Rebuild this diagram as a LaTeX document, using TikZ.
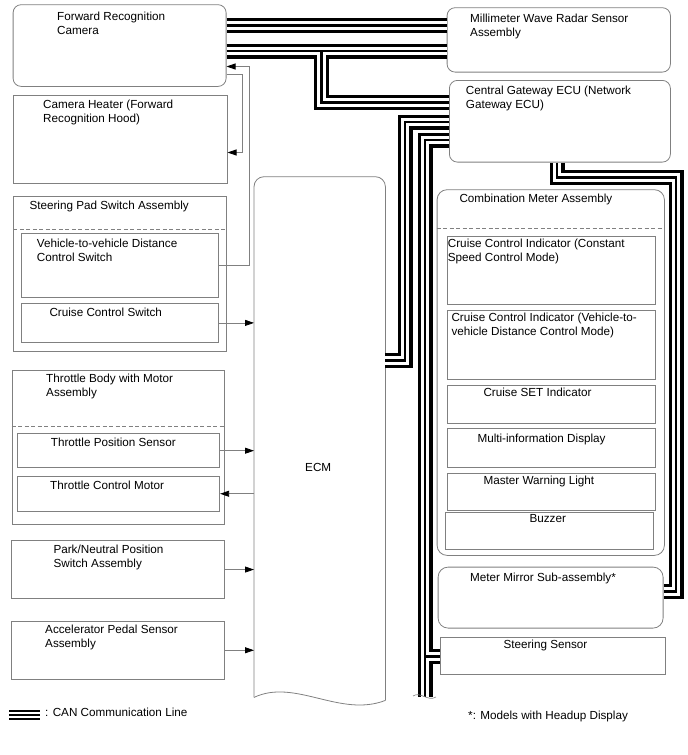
\documentclass[tikz,border=0pt]{standalone}
\usepackage{fontspec}
\setmainfont{Liberation Sans}
\usetikzlibrary{arrows.meta,positioning,calc}
\definecolor{boxgray}{RGB}{128,128,128}

\begin{document}
\begin{tikzpicture}[x=1pt, y=-1pt,
    every node/.style={font=\fontsize{11.7}{14}\selectfont},
    blk/.style={draw=boxgray, line width=0.8pt, anchor=north west, inner sep=0pt},
    rblk/.style={blk, rounded corners=8pt},
    lbl/.style={anchor=north west, inner sep=0pt, align=left},
    sep/.style={draw=boxgray, line width=0.7pt, dash pattern=on 4pt off 2.5pt},
    sig/.style={draw=boxgray, line width=0.8pt, -{Triangle[length=9pt,width=6pt,color=black]}}]
    \useasboundingbox (0,0) rectangle (688,755);

    % left column
    \node[rblk, minimum width=213pt, minimum height=81.7pt, label={[lbl,xshift=44.3pt,yshift=-7.2pt]north west:{Forward Recognition\\Camera}}] (cam) at (12.7,4.3) {};
    \node[blk, minimum width=214pt, minimum height=87.7pt, label={[lbl,xshift=30.3pt,yshift=-4.5pt]north west:{Camera Heater (Forward\\Recognition Hood)}}] (heater) at (12.7,95) {};
    \node[blk, minimum width=212.4pt, minimum height=155pt, label={[lbl,xshift=16pt,yshift=-4.5pt]north west:{Steering Pad Switch Assembly}}] (spad) at (13.3,196) {};
    \node[blk, minimum width=197.6pt, minimum height=64pt, label={[lbl,xshift=16pt,yshift=-5.5pt]north west:{Vehicle-to-vehicle Distance\\Control Switch}}] (vdc) at (20.7,233.3) {};
    \node[blk, minimum width=197.6pt, minimum height=38.4pt, label={[lbl,xshift=28.6pt,yshift=-4.5pt]north west:{Cruise Control Switch}}] (ccs) at (20.7,303.3) {};
    \node[blk, minimum width=212.6pt, minimum height=154.3pt, label={[lbl,xshift=34.3pt,yshift=-3.8pt]north west:{Throttle Body with Motor\\Assembly}}] (tbody) at (11.7,370) {};
    \node[blk, minimum width=202pt, minimum height=34pt, label={[lbl,xshift=33.4pt,yshift=-4.5pt]north west:{Throttle Position Sensor}}] (tps) at (17.3,433.3) {};
    \node[blk, minimum width=202pt, minimum height=34.7pt, label={[lbl,xshift=32.7pt,yshift=-4.5pt]north west:{Throttle Control Motor}}] (tcm) at (17.3,476) {};
    \node[blk, minimum width=213.3pt, minimum height=58.3pt, label={[lbl,xshift=42.3pt,yshift=-4.5pt]north west:{Park/Neutral Position\\Switch Assembly}}] (pnp) at (11,540) {};
    \node[blk, minimum width=213.3pt, minimum height=58.3pt, label={[lbl,xshift=34pt,yshift=-3.8pt]north west:{Accelerator Pedal Sensor\\Assembly}}] (aps) at (11,620.7) {};
    \draw[sep] (spad.west |- 0,229) -- (spad.east |- 0,229);
    \draw[sep] (tbody.west |- 0,426.7) -- (tbody.east |- 0,426.7);

    % ECM
    \node[anchor=north west, inner sep=0pt, minimum width=131pt, minimum height=523.3pt, label={[xshift=-1.5pt,yshift=-28.6pt]center:ECM}] (ECM) at (254,176.7) {};
    \draw[draw=boxgray, line width=0.8pt, rounded corners=10pt] ([yshift=3pt]ECM.south west) -- (ECM.north west) -- (ECM.north east) -- (ECM.south east);
    \draw[draw=boxgray, line width=0.8pt] (ECM.south east) .. controls (340,718) and (295,678) .. ([yshift=3pt]ECM.south west);

    % right column
    \node[rblk, minimum width=223.3pt, minimum height=64.4pt, label={[lbl,xshift=23.3pt,yshift=-6.2pt]north west:{Millimeter Wave Radar Sensor\\Assembly}}] (radar) at (446.7,7.3) {};
    \node[rblk, minimum width=221pt, minimum height=81.7pt, label={[lbl,xshift=16.7pt,yshift=-5.5pt]north west:{Central Gateway ECU (Network\\Gateway ECU)}}] (gw) at (449,80) {};
    \node[rblk, rounded corners=10pt, minimum width=227.3pt, minimum height=365.7pt, label={[lbl,xshift=22.6pt,yshift=-4.5pt]north west:{Combination Meter Assembly}}] (meter) at (436.7,189.3) {};
    \draw[sep] (meter.west |- 0,228.3) -- (meter.east |- 0,228.3);
    \node[blk, minimum width=208.3pt, minimum height=68.6pt, label={[lbl,xshift=1pt,yshift=-3.1pt]north west:{Cruise Control Indicator (Constant\\Speed Control Mode)}}] (cci1) at (446.7,235.7) {};
    \node[blk, minimum width=208.3pt, minimum height=69pt, below=5pt of cci1, label={[lbl,xshift=4.6pt,yshift=-2.9pt]north west:{Cruise Control Indicator (Vehicle-to-\\vehicle Distance Control Mode)}}] (cci2) {};
    \node[blk, minimum width=208.3pt, minimum height=37.7pt, below=5pt of cci2, label={[lbl,xshift=36.6pt,yshift=-2.9pt]north west:{Cruise SET Indicator}}] (seti) {};
    \node[blk, minimum width=208.3pt, minimum height=38.3pt, below=5pt of seti, label={[lbl,xshift=30.6pt,yshift=-5.5pt]north west:{Multi-information Display}}] (mid) {};
    \node[blk, minimum width=208.3pt, minimum height=37.7pt, below=5pt of mid, label={[lbl,xshift=36.6pt,yshift=-3.8pt]north west:{Master Warning Light}}] (mwl) {};
    \node[blk, minimum width=208pt, minimum height=37.6pt, label={[lbl,xshift=84.6pt,yshift=-2.8pt]north west:{Buzzer}}] (buzz) at (444.7,511.7) {};
    \node[rblk, rounded corners=10pt, minimum width=225pt, minimum height=61pt, label={[lbl,xshift=32.3pt,yshift=-6.5pt]north west:{Meter Mirror Sub-assembly*}}] (mirror) at (437.7,566.7) {};
    \node[blk, minimum width=225pt, minimum height=37.6pt, label={[lbl,xshift=63.3pt,yshift=-2.8pt]north west:{Steering Sensor}}] (ssens) at (440,636.7) {};

    % signal lines
    \draw[sig] (vdc.east) -- ++(30pt,0) |- ([yshift=20.3pt]cam.south east);
    \draw[sig] ([yshift=12pt]cam.south east) -- ++(16pt,0) |- ([yshift=31pt]heater.south east);
    \draw[sig] (ccs.east) -- (ccs.east -| ECM.west);
    \draw[sig] (tps.east) -- (tps.east -| ECM.west);
    \draw[sig] (tcm.east -| ECM.west) -- (tcm.east);
    \draw[sig] (pnp.east) -- (pnp.east -| ECM.west);
    \draw[sig] (aps.east) -- (aps.east -| ECM.west);

    % CAN lines
    \foreach \w/\col in {15/black,8.5/white,2.5/black}
        \draw[line width=\w pt, draw=\col]
            (cam.east |- 0,25.5) -- (radar.west |- 0,25.5)
            (cam.east |- 0,51) -- (radar.west |- 0,51)
            (321.5,51) |- (gw.west |- 0,102.5)
            (gw.west |- 0,122) -| (405,360.5) -- (ECM.east |- 0,360.5)
            (gw.west |- 0,140) -| (425,697)
            (425,656.5) -- (ssens.west |- 0,656.5)
            (557,0 |- gw.south) |- (676,177.5) |- (mirror.east |- 0,591.5);
    \draw[draw=boxgray, line width=0.6pt] (413,696) .. controls (420,691) and (428,702) .. (436,697);

    % legend
    \node[anchor=west, inner sep=0pt] (canleg) at (45,712.7) {: CAN Communication Line};
    \foreach \w/\col in {10/black,6/white,2/black}
        \draw[line width=\w pt, draw=\col] ([xshift=-36pt,yshift=-2.5pt]canleg.west) -- ([xshift=-5pt,yshift=-2.5pt]canleg.west);
    \node[anchor=west, inner sep=0pt] (hud) at (468,716) {*: Models with Headup Display};
\end{tikzpicture}
\end{document}
